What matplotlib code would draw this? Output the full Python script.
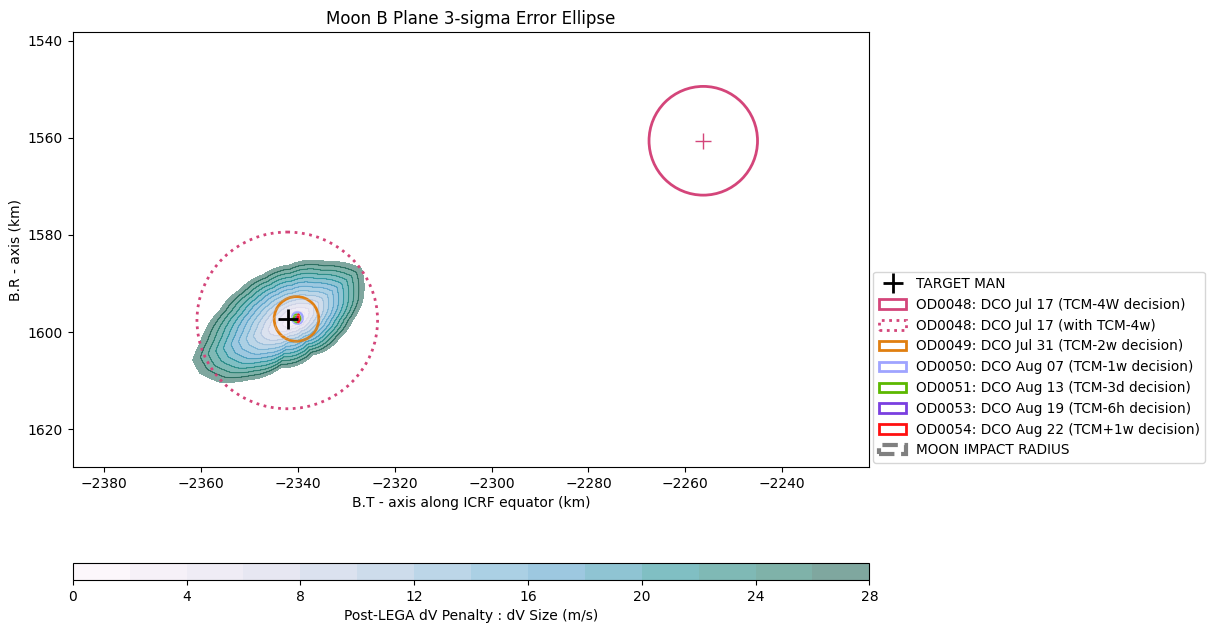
import numpy as np
import matplotlib
matplotlib.use("Agg")
import matplotlib.pyplot as plt
from matplotlib.patches import Ellipse, Circle, Patch
from matplotlib.lines import Line2D

# outer boundary of the 28 m/s penalty region (B.T, B.R in km)
edge_bt = [-2326.9, -2334.1, -2341.7, -2347.2, -2352.0, -2356.1, -2360.2, -2361.7,
           -2360.2, -2356.1, -2350.6, -2343.7, -2336.9, -2331.4, -2328.7, -2326.6, -2326.4]
edge_br = [1586.9, 1585.5, 1586.2, 1588.2, 1591.3, 1595.5, 1602.3, 1605.8,
           1608.5, 1610.3, 1609.9, 1607.4, 1604.7, 1601.2, 1597.5, 1593.4, 1589.3]
dv_center = (-2340.5, 1597.3)
dv_levels = list(range(0, 30, 2))

target = (-2342.0, 1597.3)

# error ellipses: label, center, width, height, angle, color, style, lw
ellipses = [
    ("OD0048: DCO Jul 17 (TCM-4W decision)", (-2256.3, 1560.6), 22.4, 22.4, 0, "#d4457a", "-", 2.0),
    ("OD0048: DCO Jul 17 (with TCM-4w)", (-2342.2, 1597.6), 37.3, 36.4, 0, "#d4457a", ":", 2.0),
    ("OD0049: DCO Jul 31 (TCM-2w decision)", (-2340.3, 1597.3), 9.2, 9.2, 0, "#e07f10", "-", 2.0),
    ("OD0050: DCO Aug 07 (TCM-1w decision)", (-2340.1, 1597.1), 2.2, 2.4, 0, "#9fa4ff", "-", 1.8),
    ("OD0051: DCO Aug 13 (TCM-3d decision)", (-2340.2, 1597.2), 1.1, 1.3, 0, "#5cb800", "-", 2.5),
    ("OD0053: DCO Aug 19 (TCM-6h decision)", (-2340.1, 1597.2), 0.6, 0.7, 0, "#7a3fe0", "-", 1.5),
    ("OD0054: DCO Aug 22 (TCM+1w decision)", (-2339.9, 1597.2), 0.3, 1.6, 0, "#ff1010", "-", 1.5),
]
moon_radius = 1737.4

fig = plt.figure(figsize=(12.1, 6.23), dpi=100)
ax = fig.add_axes([0.0601, 0.2504, 0.6584, 0.6982])
cax = fig.add_axes([0.0601, 0.069, 0.6584, 0.0273])

# penalty field built from the boundary profile
eb = np.array(edge_bt) - dv_center[0]
er = np.array(edge_br) - dv_center[1]
ang = np.arctan2(er, eb)
rad = np.hypot(eb, er)
order = np.argsort(ang)
x = np.linspace(-2370, -2315, 500)
y = np.linspace(1578, 1618, 400)
X, Y = np.meshgrid(x, y)
dx, dy = X - dv_center[0], Y - dv_center[1]
R = np.interp(np.arctan2(dy, dx), ang[order], rad[order], period=2 * np.pi)
Z = 28.0 * (np.hypot(dx, dy) / R) ** 0.95

cs = ax.contourf(X, Y, Z, levels=dv_levels, cmap="PuBuGn", alpha=0.5)
ax.contour(X, Y, Z, levels=dv_levels[1:-1], cmap="PuBuGn", alpha=0.3, linewidths=0.8)

handles = [Line2D([], [], color="black", marker="+", ls="none", ms=15, mew=2, label="TARGET MAN")]
for lab, c, w, h, a, col, ls, lw in ellipses:
    e = Ellipse(c, w, h, angle=a, fill=False, edgecolor=col, ls=ls, lw=lw, label=lab)
    ax.add_patch(e)
    handles.append(Patch(facecolor="white", edgecolor=col, ls=ls, lw=2, label=lab))
ax.plot(*ellipses[0][1], marker="+", color=ellipses[0][5], ms=11, mew=1)
ax.add_patch(Circle((0, 0), moon_radius, fill=False, edgecolor="gray", ls="--", lw=3))
handles.append(Patch(facecolor="white", edgecolor="gray", ls="--", lw=3, label="MOON IMPACT RADIUS"))
ax.plot(*target, marker="+", color="black", ms=15, mew=2, zorder=5)

ax.set_xlim(-2386.5, -2222.0)
ax.set_ylim(1627.8, 1538.2)
ax.set_yticks(range(1540, 1621, 20))
ax.set_title("Moon B Plane 3-sigma Error Ellipse")
ax.set_xlabel("B.T - axis along ICRF equator (km)")
ax.set_ylabel("B.R - axis (km)")
ax.legend(handles=handles, loc="lower left", bbox_to_anchor=(1.0, 0.0),
          borderaxespad=0.3, fontsize=9.8, handletextpad=0.7)

cb = fig.colorbar(cs, cax=cax, orientation="horizontal")
cb.set_ticks(range(0, 29, 4))
cb.set_label("Post-LEGA dV Penalty : dV Size (m/s)")

fig.savefig("out.png")
